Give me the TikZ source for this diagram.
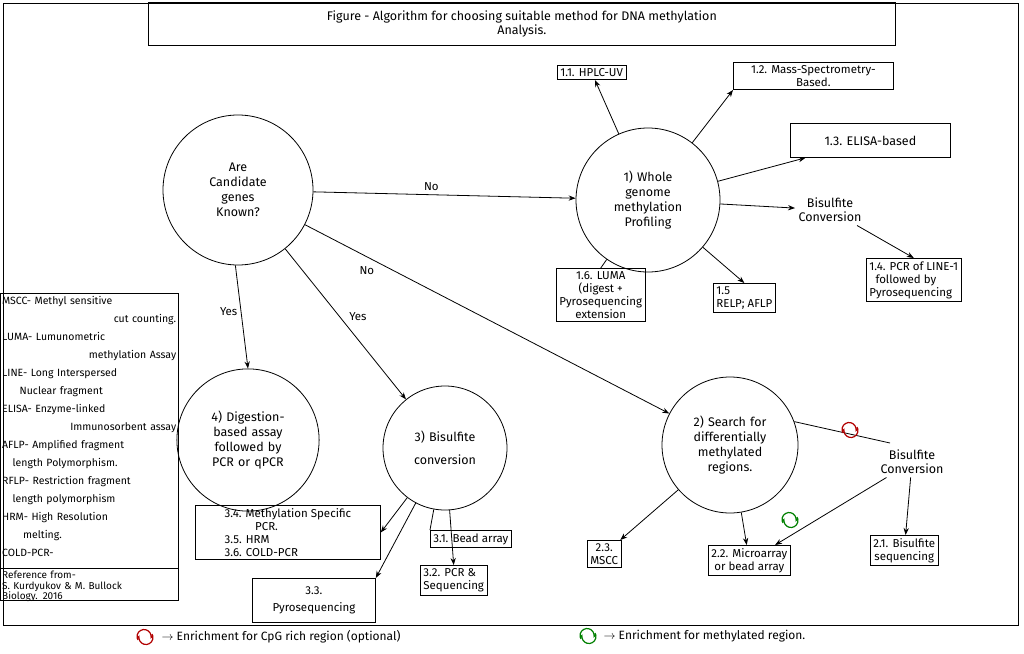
\documentclass[tikz,border=0pt]{standalone}
\usepackage{fontspec}
\setmainfont{Fira Sans}
\usetikzlibrary{arrows.meta}
\begin{document}
\begin{tikzpicture}[x=1pt,y=-1pt,
  every node/.style={font=\fontsize{11.5}{13}\selectfont},
  circ/.style={draw,thick,circle,align=center,text width=100pt,font=\fontsize{12.5}{15}\selectfont},
  box/.style={draw,thick,align=left,inner sep=3pt},
  arr/.style={thick,-{Stealth[length=7pt]}},
  ln/.style={thick}]
\useasboundingbox (0,0) rectangle (1024,653);
\fill[white] (0,0) rectangle (1024,653);
\draw[ln] (3,3) rectangle (1018,625);
\node[box,minimum width=747pt,minimum height=43pt,anchor=north west,align=center,font=\fontsize{12.5}{14}\selectfont] (title) at (148,2) {Figure - Algorithm for choosing suitable method for DNA methylation\\Analysis.};
% circles
\node[circ,minimum size=150pt] (A) at (238,190) {Are\\Candidate\\genes\\Known?};
\node[circ,minimum size=144pt] (W) at (648,200) {1) Whole\\genome\\methylation\\Profiling};
\node[circ,minimum size=136pt,text width=120pt] (D) at (248,440) {4) Digestion-\\based assay\\followed by\\PCR or qPCR};
\node[circ,minimum size=124pt,text width=90pt] (B) at (445,448) {3) Bisulfite\\[8pt]conversion};
\node[circ,minimum size=136pt,text width=110pt] (S) at (730,445) {2) Search for\\differentially\\methylated\\regions.};
% boxes level 1
\node[box,anchor=north west] (b11) at (557,65) {1.1. HPLC-UV};
\node[box,anchor=north west,align=center,minimum width=160pt] (b12) at (733,62) {1.2. Mass-Spectrometry-\\Based.};
\node[box,anchor=north west,minimum width=160pt,minimum height=34pt,font=\fontsize{12.5}{14}\selectfont] (b13) at (790,123) {1.3. ELISA-based};
\node[align=center,font=\fontsize{12.5}{14}\selectfont] (bc1) at (830,210) {Bisulfite\\Conversion};
\node[box,anchor=north west] (b14) at (866,258) {1.4. PCR of LINE-1\\\ \ followed by\\Pyrosequencing};
\node[box,anchor=north west] (b15) at (713,283) {1.5\\RELP; AFLP};
\node[box,anchor=north west,align=center] (b16) at (556,268) {1.6. LUMA\\(digest +\\Pyrosequencing\\extension};
% legend
\draw[ln] (0,293) rectangle (178,600);
\draw[ln] (0,568) -- (178,568);
\node[anchor=north west,text width=174pt,align=left,inner sep=2pt,font=\fontsize{10.5}{18}\selectfont] (leg) at (0,294) {MSCC- Methyl sensitive\\\hfill cut counting.\\LUMA- Lumunometric\\\hfill methylation Assay\\LINE- Long Interspersed\\\ \ \ \ \ Nuclear fragment\\ELISA- Enzyme-linked\\\hfill Immunosorbent assay\\AFLP- Amplified fragment\\\ \ \ length Polymorphism.\\RFLP- Restriction fragment\\\ \ \ length polymorphism\\HRM- High Resolution\\\ \ \ \ \ \ melting.\\COLD-PCR-};
\node[anchor=north west,text width=174pt,align=left,inner sep=2pt,font=\fontsize{10}{10.5}\selectfont] (ref) at (0,569) {Reference from-\\S. Kurdyukov \& M. Bullock\\Biology. 2016};
% level 3 boxes
\node[box,anchor=north west,minimum width=185pt] (b34) at (195,505) {3.4. Methylation Specific\\\ \ \ \ \ \ \ \ \ \ PCR.\\3.5. HRM\\3.6. COLD-PCR};
\node[box,anchor=north west] (b31) at (430,530) {3.1. Bead array};
\node[box,anchor=north west] (b32) at (420,565) {3.2. PCR \&\\Sequencing};
\node[box,anchor=north west,minimum width=123pt,minimum height=44pt,align=center] (b33) at (252,578) {3.3.\\[4pt]Pyrosequencing};
% level 2 boxes
\node[box,anchor=north west,align=center] (b23) at (587,540) {2.3.\\MSCC};
\node[box,anchor=north west,align=center] (b22) at (708,545) {2.2. Microarray\\or bead array};
\node[box,anchor=north west,align=center] (b21) at (870,535) {2.1. Bisulfite\\sequencing};
\node[align=center,font=\fontsize{12.5}{14}\selectfont] (bc2) at (912,462) {Bisulfite\\Conversion};
\coordinate (bcend) at (890,443);
% arrows
\draw[arr] (A) -- node[above,pos=0.45]{No} (W);
\draw[arr] (A) -- node[below left,pos=0.2]{No} (S);
\draw[arr] (A.268) -- node[left,pos=0.45]{Yes} (D.north);
\draw[arr] (A) -- node[above right,pos=0.5]{Yes} (B);
\draw[arr] (W) -- (b11);
\draw[arr] (W) -- (b12.south west);
\draw[arr] (W) -- (b13);
\draw[arr] (W) -- (bc1);
\draw[arr] (bc1) -- (b14.north);
\draw[ln] (W) -- (b16.north);
\draw[arr] (W) -- (b15.north);
\draw[arr] (B) -- (b34.east);
\draw[arr] (B) -- (b33.north east);
\draw[arr] (B) -- (b32.north);
\draw[ln] (B) -- (b31.north west);
\draw[arr] (S) -- (b23);
\draw[arr] (S) -- (b22);
\draw[ln] (S.20) -- (bcend);
\draw[arr] (bc2) -- (b21);
\draw[arr] (bc2) -- (b22);
% enrichment symbols
\newcommand\enr[2]{%
 \draw[#2,very thick,-{Stealth[length=4pt]}] (#1) ++(7,-3) arc[start angle=-30,end angle=200,radius=7];
 \draw[#2,very thick,-{Stealth[length=4pt]}] (#1) ++(-7,3) arc[start angle=150,end angle=380,radius=7];}
\coordinate (r1) at (850,430); \enr{r1}{red!70!black}
\coordinate (g1) at (790,520); \enr{g1}{green!50!black}
\coordinate (r2) at (145,637); \enr{r2}{red!70!black}
\coordinate (g2) at (588,636); \enr{g2}{green!50!black}
\node[anchor=west,font=\fontsize{12}{13}\selectfont] (l1) at (158,637) {$\rightarrow$ Enrichment for CpG rich region (optional)};
\node[anchor=west,font=\fontsize{12}{13}\selectfont] (l2) at (600,636) {$\rightarrow$ Enrichment for methylated region.};
\end{tikzpicture}
\end{document}
